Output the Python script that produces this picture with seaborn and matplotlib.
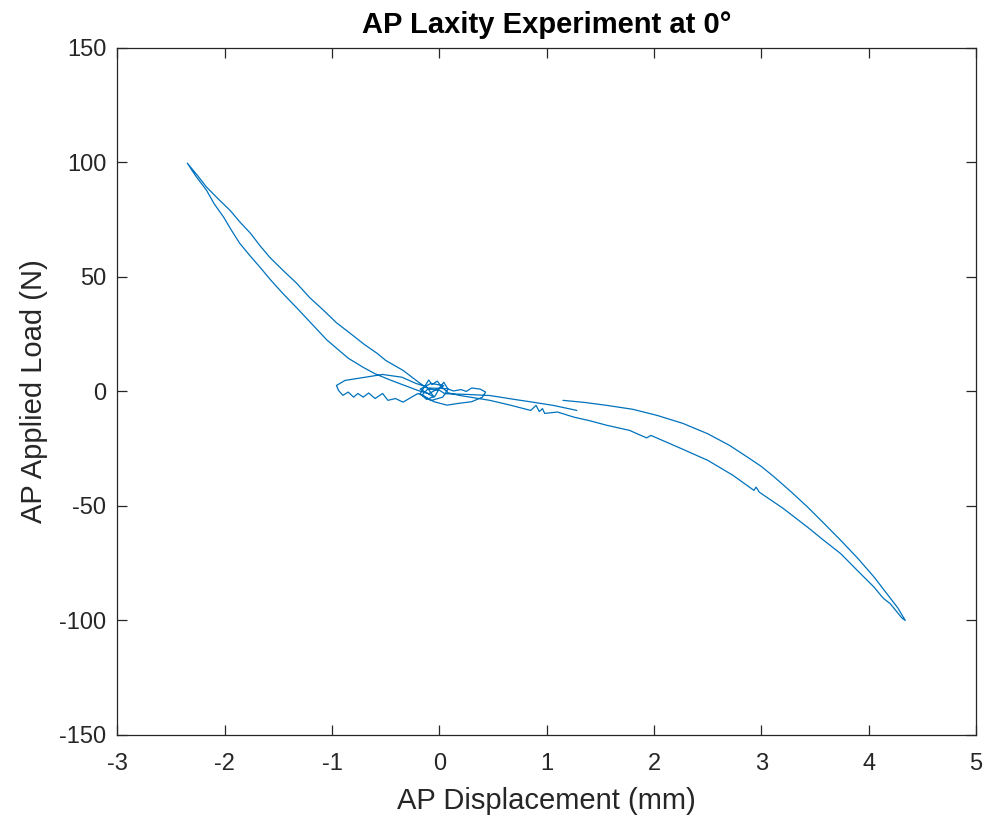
# Hysteresis plot of the AP laxity test at 0 degrees
# =============================================================

import pandas as pd
import matplotlib.pyplot as plt
import seaborn as sns

# -------------------------------------------------------------
# DATA (in recording order)
# -------------------------------------------------------------

# upper right branch, loading towards -100 N
rama_der_sup_x = [1.15, 1.35, 1.56, 1.80, 2.03, 2.27, 2.50, 2.70, 2.87, 3.00,
                  3.12, 3.28, 3.43, 3.58, 3.74, 3.90, 4.05, 4.17, 4.27, 4.34]
rama_der_sup_y = [-3.9, -4.8, -6.1, -7.8, -10.5, -14.0, -18.5, -23.5, -28.7, -32.8,
                  -37.4, -44.0, -50.5, -57.5, -65.1, -73.0, -81.1, -88.4, -94.5, -100.0]

# lower right branch, unloading back to the centre
rama_der_inf_x = [4.31, 4.20, 4.14, 4.12, 4.05, 3.90, 3.74, 3.58, 3.43, 3.20,
                  2.98, 2.95, 2.93, 2.73, 2.50, 2.23, 1.97, 1.93, 1.77, 1.56,
                  1.40, 1.25, 1.10, 0.98, 0.96, 0.93, 0.90, 0.85, 0.66, 0.47,
                  0.30, 0.18, 0.08]
rama_der_inf_y = [-99.0, -92.7, -90.5, -89.5, -85.5, -78.5, -70.9, -65.0, -59.3, -51.0,
                  -44.0, -41.8, -43.2, -36.5, -30.1, -24.5, -19.2, -20.3, -17.0, -14.8,
                  -12.8, -11.2, -9.0, -9.6, -7.5, -8.8, -6.1, -8.3, -6.0, -3.9,
                  -2.6, -1.7, -0.6]

# knot around the origin and small right loop
nudo_x = [0.02, -0.02, -0.07, -0.10, -0.14, -0.18, -0.12, -0.04, 0.00, 0.04,
          0.08, 0.03, -0.08, -0.16, -0.10, 0.07, 0.13, 0.20, 0.25, 0.30,
          0.38, 0.43, 0.40, 0.30, 0.18, 0.07, -0.05, -0.15]
nudo_y = [2.0, 4.5, 3.0, 5.0, 2.0, -1.0, -3.5, -2.0, 1.5, 4.0,
          1.0, -2.5, -4.0, -1.5, 1.5, 1.2, 0.2, 0.8, 0.0, 1.5,
          1.0, -0.3, -2.5, -4.5, -5.2, -6.0, -4.5, -2.0]

# wavy loop on the left of the origin
lazo_izq_x = [-0.20, -0.26, -0.34, -0.41, -0.48, -0.53, -0.60, -0.66, -0.71, -0.76,
              -0.80, -0.85, -0.90, -0.94, -0.96, -0.88, -0.69, -0.53, -0.35, -0.22,
              -0.12, -0.05, -0.18, -0.08, 0.04, -0.10]
lazo_izq_y = [-0.9, -2.5, -4.7, -3.1, -3.9, -0.9, -3.1, -0.7, -2.5, -0.9,
              -2.5, -0.3, -1.7, 0.4, 2.6, 4.8, 6.2, 7.4, 6.2, 3.5,
              2.0, -2.5, 1.0, 3.5, 2.5, -1.0]

# inner branch up to +100 N
rama_izq_inf_x = [-0.20, -0.32, -0.46, -0.60, -0.71, -0.85, -0.95, -1.05, -1.20, -1.33,
                  -1.46, -1.57, -1.67, -1.77, -1.86, -1.94, -2.01, -2.10, -2.17, -2.27,
                  -2.35]
rama_izq_inf_y = [0.4, 2.5, 5.0, 7.7, 10.5, 14.5, 18.5, 22.5, 30.0, 36.5,
                  42.8, 48.5, 54.1, 59.5, 64.6, 70.5, 76.0, 82.0, 87.8, 94.0,
                  99.7]

# outer branch back down to the centre
rama_izq_sup_x = [-2.25, -2.17, -2.06, -1.95, -1.86, -1.76, -1.67, -1.58, -1.45, -1.33,
                  -1.21, -1.08, -0.96, -0.83, -0.70, -0.58, -0.50, -0.34, -0.18, -0.10,
                  0.00]
rama_izq_sup_y = [94.0, 89.2, 84.0, 79.0, 74.0, 69.0, 63.5, 58.5, 52.5, 47.2,
                  41.0, 35.4, 30.0, 25.3, 20.5, 16.6, 13.5, 9.2, 3.5, 1.0,
                  0.5]

# last stretch, ends to the right of the origin
final_x = [0.05, 0.25, 0.47, 0.70, 0.87, 1.06, 1.28]
final_y = [-1.0, -1.3, -1.8, -3.5, -4.7, -6.1, -8.3]

TITULO = "AP Laxity Experiment at 0°"
ETIQUETA_X = "AP Displacement (mm)"
ETIQUETA_Y = "AP Applied Load (N)"
TICKS_X = [-3, -2, -1, 0, 1, 2, 3, 4, 5]
TICKS_Y = [-150, -100, -50, 0, 50, 100, 150]

AZUL = "#0072BD"
GRIS = "#262626"


def grafica_laxitud():
    x = (rama_der_sup_x + rama_der_inf_x + nudo_x + lazo_izq_x
         + rama_izq_inf_x + rama_izq_sup_x + final_x)
    y = (rama_der_sup_y + rama_der_inf_y + nudo_y + lazo_izq_y
         + rama_izq_inf_y + rama_izq_sup_y + final_y)
    df = pd.DataFrame({"desplazamiento": x, "carga": y})

    sns.set_style("ticks")
    plt.rcParams["font.family"] = ["Liberation Sans", "DejaVu Sans"]
    plt.rcParams["axes.unicode_minus"] = False

    fig = plt.figure(figsize=(9.94, 8.23), dpi=100)
    ax = fig.add_axes([0.1182, 0.107, 0.8638, 0.8348])

    sns.lineplot(data=df, x="desplazamiento", y="carga", ax=ax,
                 sort=False, estimator=None, color=AZUL, linewidth=0.9)

    ax.set_xlim(-3, 5)
    ax.set_ylim(-150, 150)
    ax.set_xticks(TICKS_X)
    ax.set_yticks(TICKS_Y)

    ax.tick_params(direction="in", length=7, width=0.9, colors=GRIS,
                   labelsize=17, top=True, right=True)
    ax.tick_params(axis="x", pad=13)
    ax.tick_params(axis="y", pad=8)
    for lado in ax.spines.values():
        lado.set_color(GRIS)
        lado.set_linewidth(0.9)

    ax.set_xlabel(ETIQUETA_X, fontsize=21, color=GRIS, labelpad=9)
    ax.set_ylabel(ETIQUETA_Y, fontsize=21, color=GRIS, labelpad=8)
    ax.set_title(TITULO, fontsize=21, fontweight="bold", color="black", pad=11)

    fig.savefig("out.png", dpi=100)
    plt.close(fig)


if __name__ == "__main__":
    grafica_laxitud()
